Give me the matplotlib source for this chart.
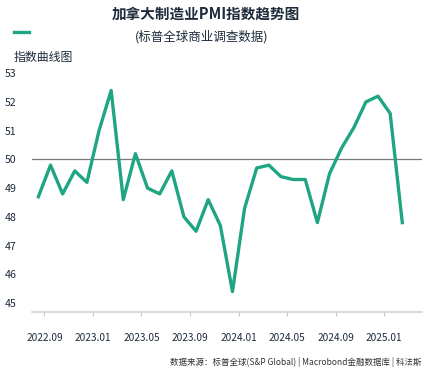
import matplotlib
matplotlib.use('Agg')
import matplotlib.pyplot as plt

plt.rcParams['font.family'] = ['Noto Sans CJK SC', 'DejaVu Sans']

# Canada manufacturing PMI, monthly from 2022.08 to 2025.02
months = ['2022.08', '2022.09', '2022.10', '2022.11', '2022.12',
          '2023.01', '2023.02', '2023.03', '2023.04', '2023.05', '2023.06',
          '2023.07', '2023.08', '2023.09', '2023.10', '2023.11', '2023.12',
          '2024.01', '2024.02', '2024.03', '2024.04', '2024.05', '2024.06',
          '2024.07', '2024.08', '2024.09', '2024.10', '2024.11', '2024.12',
          '2025.01', '2025.02']
pmi = [48.7, 49.8, 48.8, 49.6, 49.2,
       51.0, 52.4, 48.6, 50.2, 49.0, 48.8,
       49.6, 48.0, 47.5, 48.6, 47.7, 45.4,
       48.3, 49.7, 49.8, 49.4, 49.3, 49.3,
       47.8, 49.5, 50.4, 51.1, 52.0, 52.2,
       51.6, 47.8]
tick_labels = ['2022.09', '2023.01', '2023.05', '2023.09',
               '2024.01', '2024.05', '2024.09', '2025.01']
y_ticks = [45, 46, 47, 48, 49, 50, 51, 52, 53]

green = '#1fa583'
text_col = '#1e2b3c'

fig = plt.figure(figsize=(4.36, 3.79), dpi=100)
ax = fig.add_axes([31.7 / 436, 1 - 311.7 / 379, 390 / 436, 250 / 379])

x = list(range(len(months)))
ax.plot(x, pmi, color=green, lw=2.4, solid_joinstyle='round', zorder=3)
ax.axhline(50, color='#7a7a7a', lw=0.9, zorder=2)

ax.set_xlim(-0.55, 31.6)
ax.set_ylim(44.7, 53.4)

tick_pos = [months.index(m) - 0.5 for m in tick_labels]
ax.set_xticks(tick_pos)
ax.set_xticklabels(tick_labels, fontsize=7.3, color=text_col)
ax.set_yticks(y_ticks)
ax.set_yticklabels([str(v) for v in y_ticks], fontsize=7.6, color=text_col)

for s in ['top', 'right', 'left']:
    ax.spines[s].set_visible(False)
ax.spines['bottom'].set_color('#d4d4d4')
ax.spines['bottom'].set_linewidth(1.2)
ax.tick_params(axis='x', length=3, color='#c8c8c8', pad=12)
ax.tick_params(axis='y', length=0, pad=11)

fig.text(206 / 436, 1 - 14 / 379, '加拿大制造业PMI指数趋势图', ha='center', va='center',
         fontsize=10.5, fontweight='bold', color=text_col)
fig.text(202 / 436, 1 - 37 / 379, '(标普全球商业调查数据)', ha='center', va='center',
         fontsize=9, color=text_col)
fig.add_artist(plt.Line2D([14 / 436, 29 / 436], [1 - 32 / 379, 1 - 32 / 379],
                          color=green, lw=2.4))
fig.text(14 / 436, 1 - 57 / 379, '指数曲线图', ha='left', va='center',
         fontsize=8.6, color=text_col)
fig.text(421 / 436, 1 - 362 / 379,
         '数据来源：标普全球(S&P Global) | Macrobond金融数据库 | 科法斯',
         ha='right', va='center', fontsize=6.1, color='#333333')

fig.savefig('out.png', dpi=100, facecolor='white')
